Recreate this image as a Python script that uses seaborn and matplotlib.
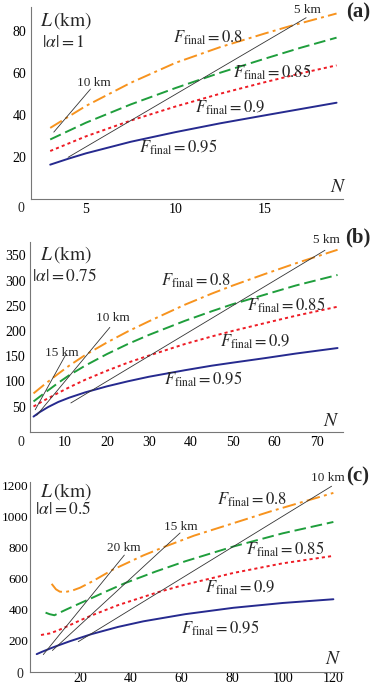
import matplotlib
matplotlib.use("Agg")
import matplotlib.pyplot as plt
import seaborn as sns
from matplotlib.ticker import MultipleLocator

# ---- panel (a): |alpha| = 1 ----
a_N_080 = [3, 5, 7.5, 10, 12.5, 15, 16.4, 19]
a_L_080 = [34, 44.5, 55.5, 65, 72.5, 79, 82.5, 88.5]
a_N_085 = [3, 5, 7.5, 10, 12.5, 15, 17, 19]
a_L_085 = [28.5, 36.5, 45.2, 53, 60.3, 67, 72.2, 77]
a_N_090 = [3, 5, 7.5, 10, 12.5, 15, 17, 19]
a_L_090 = [23, 30, 37.5, 44.2, 50.3, 55.8, 60, 63.8]
a_N_095 = [3, 4, 5, 7.5, 10, 12.5, 15, 17, 19]
a_L_095 = [16.5, 19.3, 21.9, 27.4, 32, 36.2, 40, 43, 46]
a_km = [10, 5]
a_km_N = [(3.2, 5.25), (4.0, 17.3)]

# ---- panel (b): |alpha| = 0.75 ----
b_N_080 = [2.5, 5, 8.4, 11, 14.8, 20, 25, 30, 38.6, 45, 50, 57.7, 65, 75]
b_L_080 = [76, 93, 115, 131, 152, 177, 199, 219, 252, 274, 290, 313, 334, 361]
b_N_085 = [2.5, 5, 8.4, 11, 14.8, 20, 25, 30, 38.6, 45, 50, 57.7, 65, 75]
b_L_085 = [60, 76, 97, 112, 131, 154, 174, 192, 220, 239, 253, 272, 290, 311]
b_N_090 = [2.5, 5, 8.4, 11, 14.8, 20, 25, 30, 38.6, 45, 50, 57.7, 65, 75]
b_L_090 = [50, 62, 77, 88, 103, 121, 137, 151, 174, 189, 200, 215.5, 230, 248]
b_N_095 = [2.5, 4, 6, 8.4, 11, 14.8, 20, 25, 30, 38.6, 45, 50, 57.7, 65, 75]
b_L_095 = [30, 39, 49, 59, 67.5, 78, 90, 100, 109, 122, 131, 137, 146, 155, 166]
b_km = [15, 10, 5]
b_km_N = [(2.9, 10.2), (3.25, 20.7), (11.4, 72)]

# ---- panel (c): |alpha| = 0.5 ----
c_N_080 = [8.8, 10.5, 12, 14, 17, 20, 25, 32.8, 45, 53.6, 65, 80.5, 95, 110, 120]
c_L_080 = [565, 530, 515, 512, 522, 540, 582, 655, 748, 805, 875, 955, 1030, 1102, 1150]
c_N_085 = [6.4, 8, 9.9, 12, 15, 20, 24, 30, 37.8, 50, 61.5, 80.5, 100, 120]
c_L_085 = [380, 370, 363, 380, 403, 440, 469, 514, 570, 645, 710, 805, 890, 963]
c_N_090 = [4.6, 8, 11.4, 15.4, 20, 24.6, 35, 50.5, 61.5, 80.5, 100, 120]
c_L_090 = [236, 246, 266, 295, 330, 362, 428, 510, 560, 635, 697, 745]
c_N_095 = [2.9, 5, 8.8, 11.4, 16, 24.6, 35, 45, 61.5, 80.5, 100, 120]
c_L_095 = [113, 128, 153, 169, 196, 242, 288, 324, 370, 411, 442, 466]
c_km = [20, 15, 10]
c_km_N = [(5.5, 37.5), (9.1, 59.5), (19.3, 119.3)]

fidelities = ["0.8", "0.85", "0.9", "0.95"]
colors = ["#f7931e", "#1f9e3c", "#ee1c25", "#262a8f"]
styles = [(0, (7, 2.2, 1.5, 2.2)), (0, (6, 2.5)), (0, (1.6, 1.6)), "-"]

sns.set_style("white")
plt.rcParams["font.family"] = ["Liberation Serif", "DejaVu Serif"]
plt.rcParams["mathtext.fontset"] = "stix"

W, H = 374, 685
fig = plt.figure(figsize=(W / 100, H / 100), dpi=100)


def px(x, y):
    return x / W, 1 - y / H


def make_axes(left, right, top, bottom, xpad, ypad):
    ax = fig.add_axes([left / W, 1 - bottom / H, (right - left) / W, (bottom - top) / H])
    for s in ["top", "right"]:
        ax.spines[s].set_visible(False)
    for s in ["left", "bottom"]:
        ax.spines[s].set_color("#777777")
        ax.spines[s].set_linewidth(0.8)
    ax.tick_params(which="both", direction="in", colors="#777777", labelcolor="black",
                   labelsize=10)
    ax.tick_params(axis="x", which="both", pad=xpad)
    ax.tick_params(axis="y", which="both", pad=ypad)
    ax.tick_params(which="major", length=4, width=0.7)
    ax.tick_params(which="minor", length=2, width=0.5)
    return ax


panels = [
    dict(box=(30.7, 343, 7, 199.3), xlim=(1.91, 19.36), ylim=(0, 91.6),
         xmaj=5, xmin=1, ymaj=20, ymin=5, xpad=3, ypad=3,
         curves=[(a_N_080, a_L_080), (a_N_085, a_L_085), (a_N_090, a_L_090), (a_N_095, a_L_095)],
         km=a_km, kmN=a_km_N),
    dict(box=(30, 343, 241.7, 431.7), xlim=(1.66, 76.3), ylim=(0, 377),
         xmaj=10, xmin=2, ymaj=50, ymin=10, xpad=3, ypad=3,
         curves=[(b_N_080, b_L_080), (b_N_085, b_L_085), (b_N_090, b_L_090), (b_N_095, b_L_095)],
         km=b_km, kmN=b_km_N),
    dict(box=(30, 343, 481.7, 671.7), xlim=(0.26, 123.8), ylim=(0, 1222),
         xmaj=20, xmin=5, ymaj=200, ymin=50, xpad=0.3, ypad=1,
         curves=[(c_N_080, c_L_080), (c_N_085, c_L_085), (c_N_090, c_L_090), (c_N_095, c_L_095)],
         km=c_km, kmN=c_km_N),
]

for p in panels:
    ax = make_axes(*p["box"], p["xpad"], p["ypad"])
    for (n, l), col, ls in zip(p["curves"], colors, styles):
        sns.lineplot(x=n, y=l, ax=ax, color=col, linestyle=ls, linewidth=1.4, sort=False)
    for d, (n0, n1) in zip(p["km"], p["kmN"]):
        ax.plot([n0, n1], [d * n0, d * n1], color="#333333", linewidth=0.6)
    ax.set_xlim(*p["xlim"])
    ax.set_ylim(*p["ylim"])
    ax.xaxis.set_major_locator(MultipleLocator(p["xmaj"]))
    ax.xaxis.set_minor_locator(MultipleLocator(p["xmin"]))
    ax.yaxis.set_major_locator(MultipleLocator(p["ymaj"]))
    ax.yaxis.set_minor_locator(MultipleLocator(p["ymin"]))
    ax.set_xticks([t for t in ax.get_xticks() if p["xlim"][0] < t <= p["xlim"][1]])
    ax.set_yticks([t for t in ax.get_yticks() if 0 < t <= p["ylim"][1]])
    ax.set_xlabel("")
    ax.set_ylabel("")
    if p["ylim"][1] > 1000:
        ax.tick_params(axis="y", labelsize=9.5)

# ---- annotations (pixel positions) ----
ftxt = dict(fontsize=12, ha="center", va="center")
ktxt = dict(fontsize=9.5, ha="center", va="center")


def put(x, y, s, **kw):
    fig.text(*px(x, y), s, **kw)


def flab(x, y, f):
    put(x, y, r"$F_{\mathrm{final}}=" + f + "$", **ftxt)


# (a)
put(66, 21, r"$L\,(\mathrm{km})$", fontsize=14, ha="center", va="center")
put(63, 43, r"$|\alpha|=1$", fontsize=12.5, ha="center", va="center")
put(358, 12, "(a)", fontsize=15, fontweight="bold", ha="center", va="center")
put(338, 188, r"$N$", fontsize=14, ha="center", va="center")
put(21, 208, "0", fontsize=10, ha="center", va="center")
put(94, 83, "10 km", **ktxt)
put(307, 10, "5 km", **ktxt)
for (x, y), f in zip([(208, 38), (272, 72), (230, 108), (178, 147)], fidelities):
    flab(x, y, f)

# (b)
put(66, 255, r"$L\,(\mathrm{km})$", fontsize=14, ha="center", va="center")
put(64, 277, r"$|\alpha|=0.75$", fontsize=12.5, ha="center", va="center")
put(358, 237, "(b)", fontsize=15, fontweight="bold", ha="center", va="center")
put(331, 422, r"$N$", fontsize=14, ha="center", va="center")
put(21, 442, "0", fontsize=10, ha="center", va="center")
put(62, 353, "15 km", **ktxt)
put(113, 318, "10 km", **ktxt)
put(326, 240, "5 km", **ktxt)
for (x, y), f in zip([(196, 281), (286, 305), (255, 342), (203, 379)], fidelities):
    flab(x, y, f)

# (c)
put(66, 492, r"$L\,(\mathrm{km})$", fontsize=14, ha="center", va="center")
put(63, 510, r"$|\alpha|=0.5$", fontsize=12.5, ha="center", va="center")
put(358, 476, "(c)", fontsize=15, fontweight="bold", ha="center", va="center")
put(333, 660, r"$N$", fontsize=14, ha="center", va="center")
put(20, 674, "0", fontsize=10, ha="center", va="center")
put(124, 548, "20 km", **ktxt)
put(181, 527, "15 km", **ktxt)
put(328, 478, "10 km", **ktxt)
for (x, y), f in zip([(252, 500), (285, 549), (240, 588), (220, 628)], fidelities):
    flab(x, y, f)

fig.savefig("out.png", dpi=100)
